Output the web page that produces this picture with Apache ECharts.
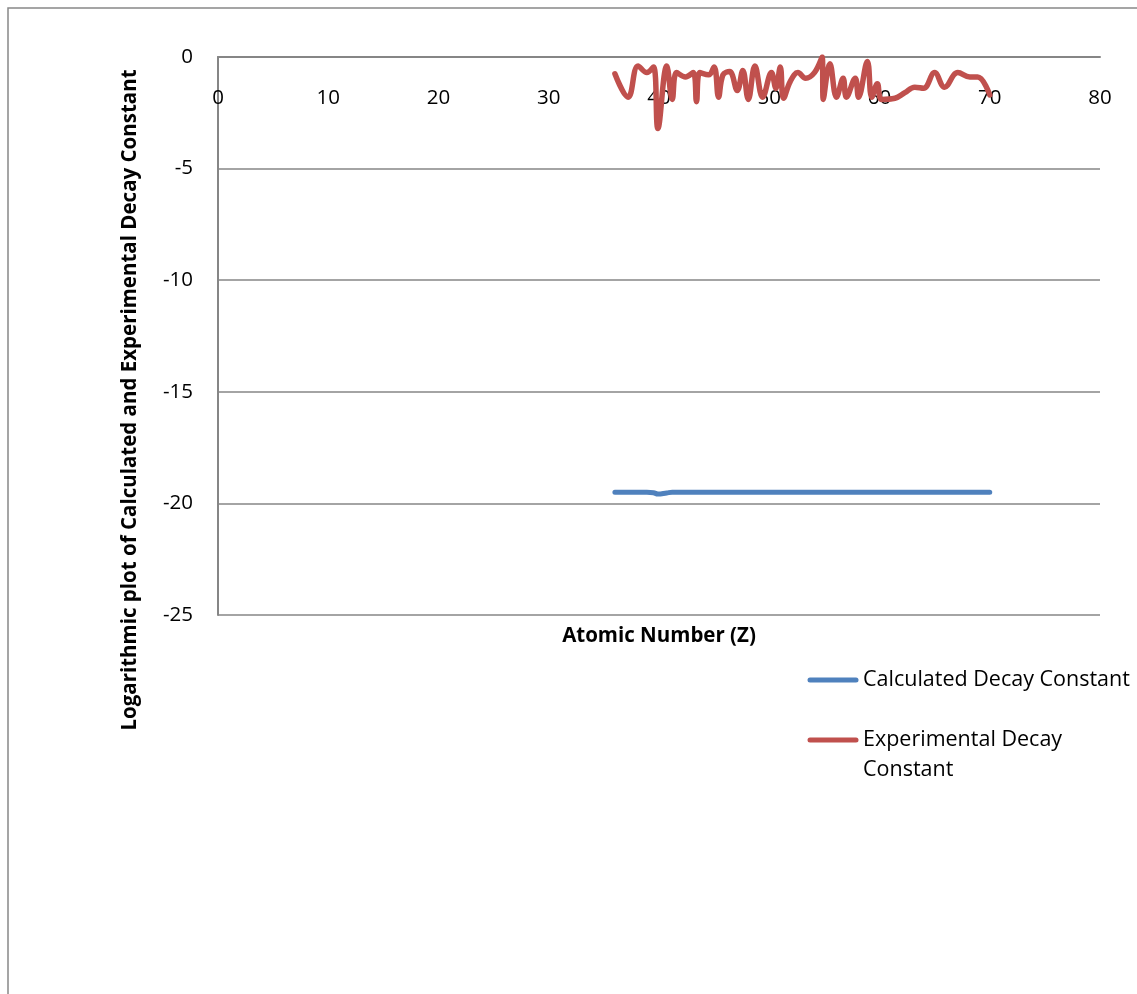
<!DOCTYPE html>
<html>
<head>
<meta charset="utf-8">
<script src="https://cdn.jsdelivr.net/npm/echarts@6/dist/echarts.min.js"></script>
<style>
html,body{margin:0;padding:0;background:#fff;}
#chart{width:1137px;height:994px;}
</style>
</head>
<body>
<div id="chart"></div>
<script>
// Data
const atomicZ = [36,37.2,38.1,38.9,39.5,39.9,40.7,41.2,41.6,42.4,43.1,43.4,43.7,44.5,45,45.4,45.8,46.4,47.1,47.6,48.1,48.7,49.4,50.2,50.6,51,51.3,51.9,52.6,53.3,54.1,54.8,54.9,55.5,56.1,56.7,57,57.8,58.1,58.9,59.3,59.8,60.2,61.4,62.3,63.2,64,65,65.9,67.1,68.2,68.9,70];
const experimentalLog = [-0.75,-1.8,-0.4,-0.7,-0.45,-3.2,-0.4,-1.9,-0.7,-0.9,-0.7,-2.0,-0.7,-0.8,-0.45,-1.8,-0.8,-0.65,-1.5,-0.6,-1.9,-0.4,-1.8,-0.7,-1.4,-0.45,-1.85,-1.1,-0.7,-0.95,-0.7,0,-1.9,-0.3,-1.8,-0.95,-1.8,-0.95,-1.8,-0.2,-1.8,-1.2,-1.9,-1.85,-1.6,-1.35,-1.4,-0.7,-1.35,-0.7,-0.9,-0.9,-1.7];
const calculatedLog = [-19.5,-19.5,-19.5,-19.5,-19.52,-19.58,-19.53,-19.5,-19.5,-19.5,-19.5,-19.5,-19.5,-19.5,-19.5,-19.5,-19.5,-19.5,-19.5,-19.5,-19.5,-19.5,-19.5,-19.5,-19.5,-19.5,-19.5,-19.5,-19.5,-19.5,-19.5,-19.5,-19.5,-19.5,-19.5,-19.5,-19.5,-19.5,-19.5,-19.5,-19.5,-19.5,-19.5,-19.5,-19.5,-19.5,-19.5,-19.5,-19.5,-19.5,-19.5,-19.5,-19.5];
const xTicks = [0,10,20,30,40,50,60,70,80];
const yTicks = [0,-5,-10,-15,-20,-25];
const seriesNames = ['Calculated Decay Constant','Experimental Decay Constant'];
const xAxisTitle = 'Atomic Number (Z)';
const yAxisTitle = 'Logarithmic plot of Calculated and Experimental Decay Constant';

const FONT = '"Open Sans"';
const BLUE = '#4F81BD', RED = '#C0504D', GRID = '#868686';

const chart = echarts.init(document.getElementById('chart'), null, {renderer:'canvas'});
const pair = (xs, ys) => xs.map((x,i)=>[x, ys[i]]);

chart.setOption({
  animation:false,
  backgroundColor:'#fff',
  grid:{left:218, right:37, top:57, bottom:379, containLabel:false},
  xAxis:{
    type:'value', position:'top', min:xTicks[0], max:xTicks[xTicks.length-1], interval:10,
    axisLine:{show:true, lineStyle:{color:GRID, width:2}},
    axisTick:{show:false},
    splitLine:{show:false},
    axisLabel:{inside:true, margin:31, fontFamily:FONT, fontSize:20.5, color:'#000'}
  },
  yAxis:{
    type:'value', min:yTicks[yTicks.length-1], max:yTicks[0], interval:5,
    axisLine:{show:true, lineStyle:{color:GRID, width:2}},
    axisTick:{show:false},
    splitLine:{show:true, lineStyle:{color:GRID, width:1.5}},
    axisLabel:{margin:25, fontFamily:FONT, fontSize:20.5, color:'#000'}
  },
  series:[
    {name:seriesNames[0], type:'line', smooth:0.4, showSymbol:false, data:pair(atomicZ, calculatedLog),
     lineStyle:{color:BLUE, width:5, cap:'round', join:'round'}, itemStyle:{color:BLUE}, z:3},
    {name:seriesNames[1], type:'line', smooth:0.4, showSymbol:false, data:pair(atomicZ, experimentalLog),
     lineStyle:{color:RED, width:5.5, cap:'round', join:'round'}, itemStyle:{color:RED}, z:4}
  ],
  graphic:[
    {type:'rect', shape:{x:8, y:8, width:1200, height:1100}, style:{fill:'none', stroke:'#888', lineWidth:1.5}, silent:true, z:-10},
    {type:'text', x:659, y:636, style:{text:xAxisTitle, font:'bold 20.5px '+FONT, fill:'#000', align:'center', verticalAlign:'middle'}},
    {type:'text', x:130, y:400, rotation:Math.PI/2, style:{text:yAxisTitle, font:'bold 20.5px '+FONT, fill:'#000', align:'center', verticalAlign:'middle'}},
    {type:'line', shape:{x1:810, y1:680, x2:856, y2:680}, style:{stroke:BLUE, lineWidth:5, lineCap:'round'}},
    {type:'text', x:863, y:680, style:{text:seriesNames[0], font:'21.5px '+FONT, fill:'#000', align:'left', verticalAlign:'middle'}},
    {type:'line', shape:{x1:810, y1:740, x2:856, y2:740}, style:{stroke:RED, lineWidth:5, lineCap:'round'}},
    {type:'text', x:863, y:740, style:{text:'Experimental Decay', font:'21.5px '+FONT, fill:'#000', align:'left', verticalAlign:'middle'}},
    {type:'text', x:863, y:770, style:{text:'Constant', font:'21.5px '+FONT, fill:'#000', align:'left', verticalAlign:'middle'}}
  ]
});
</script>
</body>
</html>
